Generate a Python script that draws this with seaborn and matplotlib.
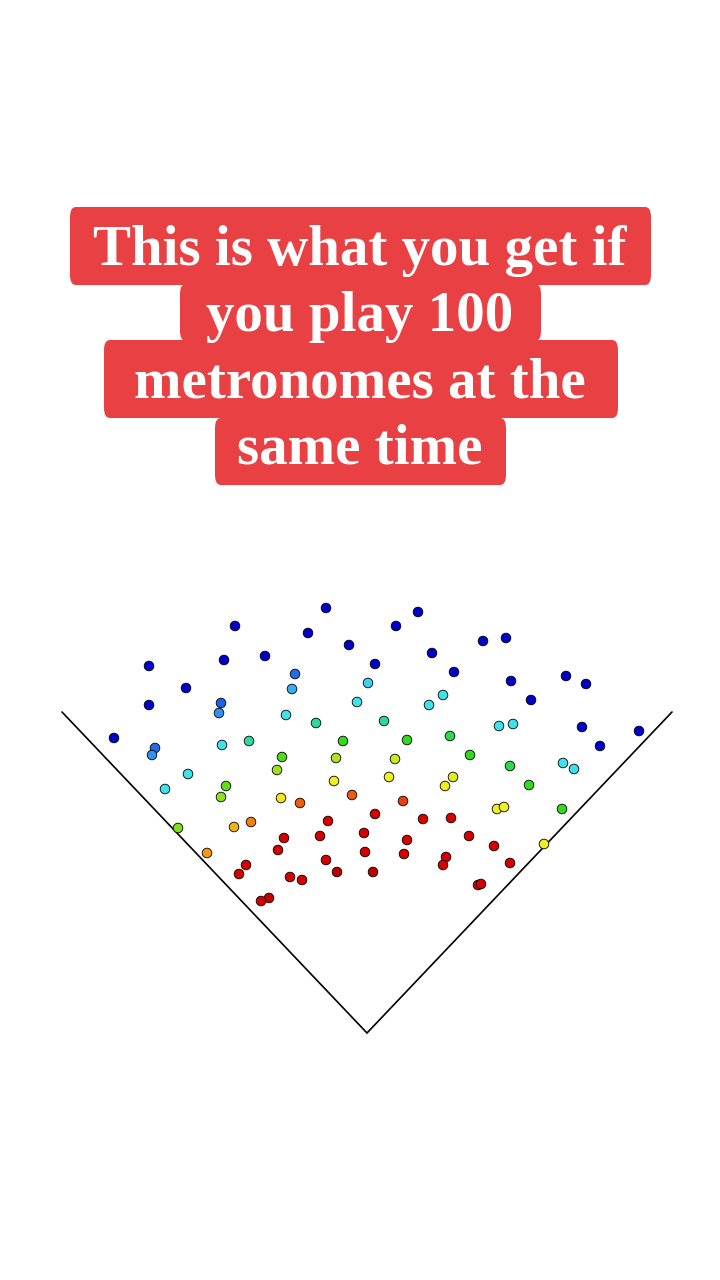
import matplotlib
matplotlib.use("Agg")
import matplotlib.pyplot as plt
from matplotlib.colors import LinearSegmentedColormap
from matplotlib.patches import FancyBboxPatch
import numpy as np
import pandas as pd
import seaborn as sns

# title lines
title_lines = ["This is what you get if", "you play 100", "metronomes at the", "same time"]

# the V of the pendulum arms (pivot at 0, 0)
arm_x = [-305, 0, 305]
arm_y = [321, 0, 321]

# bob positions, relative to the pivot
bob_x = [-218, -218, -253, -181, -132, -143, -102, -59, -41, -18,
         8, 29, 51, 65, 87, 116, 139, 144, 164, 199,
         219, 215, 233, 272, -146, -72, -212, -148, -215, -75,
         1, -81, -10, 76, 62, -145, 132, 146, -179, -202,
         196, 207, -118, -51, 17, -24, 40, 83, 103, -85,
         143, 162, 195, -141, -90, -146, -31, -189, 28, -33,
         22, 86, 78, -86, 130, 137, 177, -133, -160, -116,
         -67, -15, 36, 8, -39, 56, 84, -83, -3, -47,
         40, 102, 127, -89, -2, 37, -41, 79, 76, 143,
         -121, -128, -77, -65, -30, 6, 111, 114, -98, -106]
bob_y = [367, 328, 295, 345, 407, 373, 377, 400, 425, 388,
         369, 407, 421, 380, 361, 392, 395, 352, 333, 357,
         349, 306, 287, 302, 330, 359, 285, 320, 278, 344,
         350, 318, 331, 338, 328, 288, 307, 309, 259, 244,
         270, 264, 292, 310, 312, 292, 293, 297, 278, 276,
         267, 248, 224, 247, 263, 236, 275, 205, 274, 252,
         256, 256, 247, 235, 224, 226, 189, 206, 180, 211,
         230, 238, 232, 219, 212, 214, 215, 195, 200, 197,
         193, 197, 187, 183, 181, 179, 173, 176, 168, 170,
         168, 159, 156, 153, 161, 161, 148, 149, 135, 132]
# colour value of each bob (0 = blue ... 1 = red)
bob_hue = [0.07] * 24 + [0.2, 0.22, 0.22, 0.27, 0.27, 0.3] \
    + [0.33, 0.36, 0.36, 0.36, 0.36, 0.36, 0.36, 0.36, 0.36, 0.36, 0.36, 0.35] \
    + [0.42, 0.42, 0.42] \
    + [0.5, 0.5, 0.47, 0.5, 0.52, 0.48, 0.5, 0.5, 0.53] \
    + [0.57, 0.56, 0.58, 0.55] \
    + [0.6, 0.63, 0.63, 0.62, 0.63, 0.64, 0.63, 0.63, 0.63] \
    + [0.68, 0.72, 0.76, 0.8, 0.8, 0.83] \
    + [0.92] * 21 + [0.96, 0.96, 0.92, 0.92, 0.95, 0.93]

df = pd.DataFrame({"x": bob_x, "y": bob_y, "hue": bob_hue})

# rainbow used for the bobs
bob_cmap = LinearSegmentedColormap.from_list("bobs", [
    (0.0, "#0000b8"), (0.1, "#0000d0"), (0.2, "#2060e8"), (0.27, "#3090f0"),
    (0.33, "#40d0f0"), (0.37, "#40e8e8"), (0.42, "#30d8a0"), (0.5, "#30d820"),
    (0.57, "#a0e020"), (0.63, "#f0f020"), (0.68, "#f0b810"), (0.76, "#f08010"),
    (0.83, "#e84010"), (0.92, "#d80000"), (1.0, "#a00000")])

sns.set_theme(style="white")

fig = plt.figure(figsize=(7.2, 12.8), dpi=100)
fig.patch.set_facecolor("white")
ax = fig.add_axes([0, 0, 1, 1])

ax.plot(arm_x, arm_y, color="black", linewidth=1.2, solid_joinstyle="miter")

sns.scatterplot(data=df, x="x", y="y", hue="hue", palette=bob_cmap,
                hue_norm=(0, 1), s=48, edgecolor="black", linewidth=0.6,
                legend=False, ax=ax, zorder=3)

ax.set_xlim(-367, 353)
ax.set_ylim(-247, 1033)
ax.set_axis_off()

# red boxes behind the title (pixel extents: x0, x1, top, bottom)
boxes = [(70, 651, 207, 285), (180, 541, 284, 341), (104, 618, 340, 418), (215, 506, 418, 485)]
for x0, x1, top, bot in boxes:
    fig.patches.append(FancyBboxPatch(
        (x0 / 720, 1 - bot / 1280), (x1 - x0) / 720, (bot - top) / 1280,
        boxstyle="round,pad=0,rounding_size=0.008", transform=fig.transFigure,
        facecolor="#E84043", edgecolor="none", zorder=1))

baselines = [265, 331, 397, 463]
for line, base in zip(title_lines, baselines):
    fig.text(0.5, 1 - base / 1280, line, ha="center", va="baseline", color="white",
             fontsize=41, fontweight="bold", family=["Liberation Serif", "DejaVu Serif"],
             zorder=2)

fig.savefig("out.png", dpi=100, facecolor="white")
